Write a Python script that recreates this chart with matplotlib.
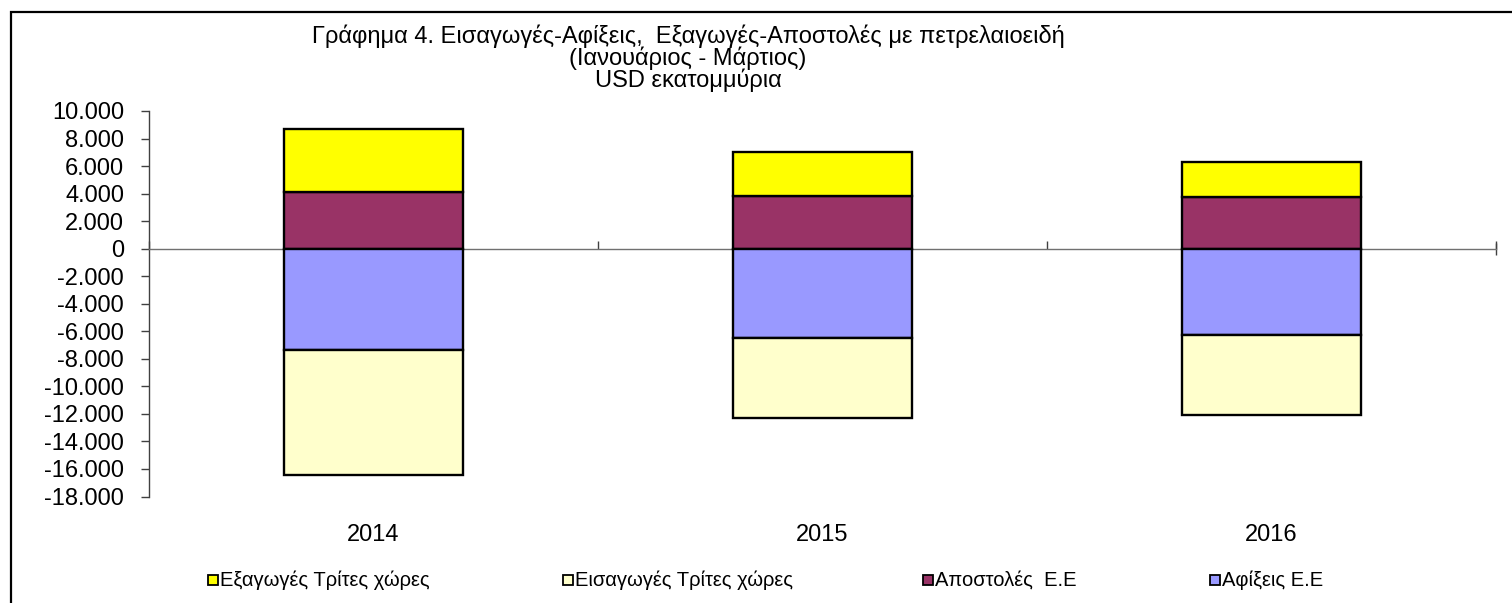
import matplotlib
matplotlib.use("Agg")
import matplotlib.pyplot as plt
import matplotlib.transforms as mtransforms
from matplotlib.ticker import FuncFormatter, FixedLocator
from matplotlib.patches import Rectangle
import numpy as np

plt.rcParams['font.family'] = ['Liberation Sans', 'DejaVu Sans']

years = ["2014", "2015", "2016"]
exports_third = [4600, 3200, 2540]        # Εξαγωγές Τρίτες χώρες
imports_third = [-9090, -5790, -5820]     # Εισαγωγές Τρίτες χώρες
dispatches_eu = [4100, 3830, 3760]        # Αποστολές Ε.Ε
arrivals_eu = [-7350, -6500, -6280]       # Αφίξεις Ε.Ε
yticks = list(range(-18000, 10001, 2000))

title_lines = ["Γράφημα 4. Εισαγωγές-Αφίξεις,  Εξαγωγές-Αποστολές με πετρελαιοειδή",
               "(Ιανουάριος - Μάρτιος)",
               "USD εκατομμύρια"]
legend_labels = ["Εξαγωγές Τρίτες χώρες", "Εισαγωγές Τρίτες χώρες",
                 "Αποστολές  Ε.Ε", "Αφίξεις Ε.Ε"]

c_exp = "#FFFF00"
c_imp = "#FFFFCC"
c_disp = "#993366"
c_arr = "#9999FF"
legend_colors = [c_exp, c_imp, c_disp, c_arr]

W, H = 1512, 603
fig = plt.figure(figsize=(W / 100, H / 100), dpi=100)
ax = fig.add_axes([149 / W, 1 - 496.5 / H, (1496 - 149) / W, (496.5 - 111) / H])

x = np.arange(len(years))
bw = 0.4
ekw = dict(edgecolor="black", linewidth=1.7, width=bw, zorder=3)
ax.bar(x, dispatches_eu, color=c_disp, **ekw)
ax.bar(x, exports_third, bottom=dispatches_eu, color=c_exp, **ekw)
ax.bar(x, arrivals_eu, color=c_arr, **ekw)
ax.bar(x, imports_third, bottom=arrivals_eu, color=c_imp, **ekw)

ax.set_xlim(-0.5, len(years) - 0.5)
ax.set_ylim(-18000, 10000)

for s in ["top", "right"]:
    ax.spines[s].set_visible(False)
ax.spines["bottom"].set_position(("data", 0))
ax.spines["bottom"].set_color("#707070")
ax.spines["bottom"].set_linewidth(1.0)
ax.spines["left"].set_color("#404040")
ax.spines["left"].set_linewidth(1.0)

ax.set_yticks(yticks)
ax.yaxis.set_major_formatter(FuncFormatter(lambda v, p: f"{int(v):,}".replace(",", ".")))
ax.tick_params(axis="y", direction="out", length=6, width=1, color="#404040",
               labelsize=17, pad=12)

ax.xaxis.remove_overlapping_locs = False
ax.xaxis.set_major_locator(FixedLocator(np.arange(len(years) + 1) - 0.5))
ax.xaxis.set_minor_locator(FixedLocator(list(x) + [len(years) - 0.5]))
ax.tick_params(axis="x", which="major", direction="in", length=6, width=1,
               color="#404040", labelbottom=False)
ax.tick_params(axis="x", which="minor", direction="inout", length=9, width=1,
               color="#404040", labelbottom=False)

trans = mtransforms.blended_transform_factory(ax.transData, fig.transFigure)
for xi, yr in zip(x, years):
    ax.text(xi, 1 - 535 / H, yr, transform=trans, ha="center", va="center", fontsize=17)

# title, three centred lines
title_cx = 688
for line, yc in zip(title_lines, [36, 58, 80]):
    fig.text(title_cx / W, 1 - yc / H, line, ha="center", va="center", fontsize=17)

# legend, laid out as in the reference
leg_x = [208, 563, 923, 1210]
leg_y = 580
msz = 10
for lx, lab, col in zip(leg_x, legend_labels, legend_colors):
    fig.patches.append(Rectangle((lx / W, (H - leg_y - msz / 2) / H), msz / W, msz / H,
                                 transform=fig.transFigure, facecolor=col,
                                 edgecolor="black", linewidth=1.3))
    fig.text((lx + msz + 2) / W, 1 - leg_y / H, lab, ha="left", va="center", fontsize=14.5)

fig.patches.append(Rectangle((11 / W, -0.1), 1.2, 1 - 12 / H + 0.1, transform=fig.transFigure,
                             fill=False, edgecolor="black", linewidth=1.6, clip_on=False))

fig.savefig("out.png", dpi=100)
